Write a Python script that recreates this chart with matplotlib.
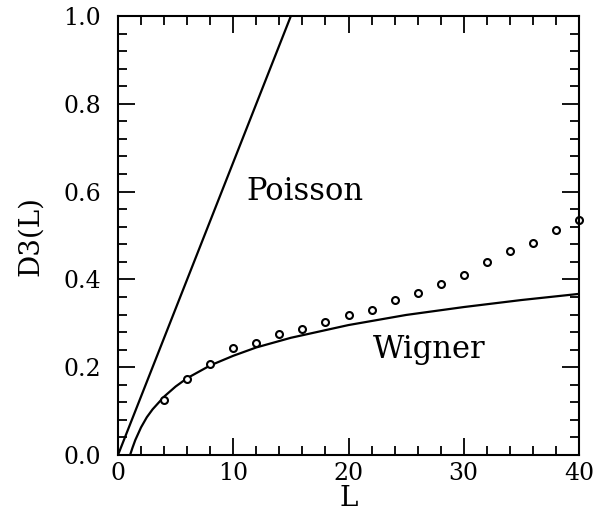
import matplotlib
matplotlib.use("Agg")
import matplotlib.pyplot as plt
from matplotlib.ticker import MultipleLocator

# Data
poisson_L = [0, 15]
poisson_D3 = [0.0, 1.0]

wigner_L = [1.1, 1.25, 1.5, 2, 2.5, 3, 4, 5, 6, 8, 10, 12, 15, 20, 25, 30, 35, 40]
wigner_D3 = [0.004, 0.016, 0.034, 0.063, 0.086, 0.104, 0.133, 0.156, 0.175,
             0.204, 0.226, 0.245, 0.267, 0.296, 0.319, 0.337, 0.353, 0.367]

data_L = [4, 6, 8, 10, 12, 14, 16, 18, 20, 22, 24, 26, 28, 30, 32, 34, 36, 38, 40]
data_D3 = [0.126, 0.173, 0.208, 0.244, 0.256, 0.276, 0.286, 0.304, 0.318, 0.330,
           0.352, 0.369, 0.390, 0.411, 0.439, 0.465, 0.484, 0.512, 0.535]

plt.rcParams['font.family'] = ['DejaVu Serif']

fig = plt.figure(figsize=(5.95, 5.11), dpi=100)
ax = fig.add_axes([118/595, 1 - 455/511, 461/595, 439/511])

ax.plot(poisson_L, poisson_D3, color='black', lw=1.6)
ax.plot(wigner_L, wigner_D3, color='black', lw=1.6)
ax.plot(data_L, data_D3, linestyle='none', marker='o', markersize=5,
        markerfacecolor='white', markeredgecolor='black', markeredgewidth=1.5,
        clip_on=False)

ax.set_xlim(0, 40)
ax.set_ylim(0, 1.0)
ax.xaxis.set_major_locator(MultipleLocator(10))
ax.xaxis.set_minor_locator(MultipleLocator(2))
ax.yaxis.set_major_locator(MultipleLocator(0.2))
ax.yaxis.set_minor_locator(MultipleLocator(0.04))
ax.set_yticklabels([f"{v:.1f}" for v in ax.get_yticks()])
ax.tick_params(which='both', direction='in', top=True, right=True, width=1.3)
ax.tick_params(which='major', length=12, labelsize=17)
ax.tick_params(which='minor', length=6.5)
ax.tick_params(axis='y', which='major', pad=12)
ax.tick_params(axis='x', which='major', pad=5)
for s in ax.spines.values():
    s.set_linewidth(1.5)

ax.set_xlabel('L', fontsize=20, labelpad=0)
ax.set_ylabel('D3(L)', fontsize=20, labelpad=14)

ax.text(11.1, 0.60, 'Poisson', fontsize=22, va='center', ha='left')
ax.text(22.1, 0.24, 'Wigner', fontsize=22, va='center', ha='left')

fig.savefig('out.png', dpi=100)
